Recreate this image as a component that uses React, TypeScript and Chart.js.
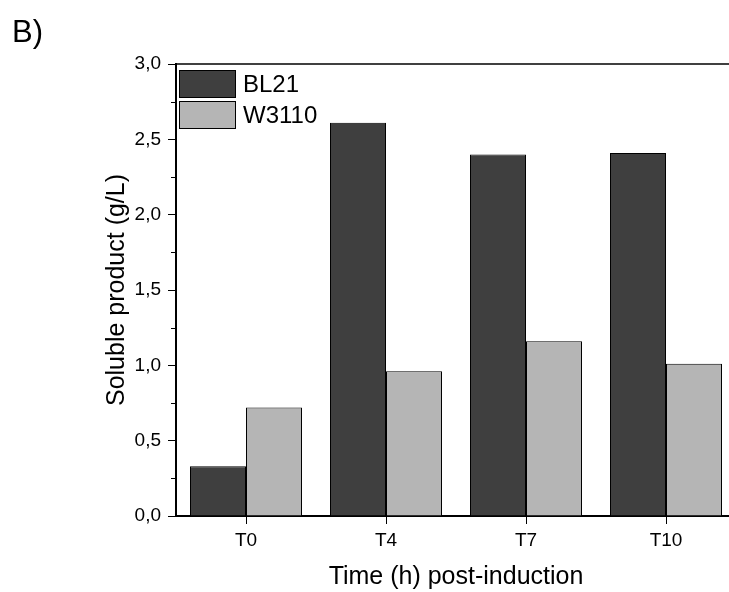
import React, { useEffect, useRef } from "react";
import { Chart, registerables } from "chart.js";

Chart.register(...registerables);

const categories = ["T0", "T4", "T7", "T10"];
const bl21Values = [0.33, 2.61, 2.4, 2.41];
const w3110Values = [0.72, 0.96, 1.16, 1.01];
const seriesNames = ["BL21", "W3110"];
const seriesColors = ["#3f3f3f", "#b5b5b5"];
const yMin = 0;
const yMax = 3;
const yStep = 0.5;
const minorTickValues = [0.25, 0.75, 1.25, 1.75, 2.25, 2.75];
const panelLabel = "B)";
const xTitle = "Time (h) post-induction";
const yTitle = "Soluble product (g/L)";

const FONT = '"Liberation Sans", Arial, sans-serif';
const CANVAS_W = 760;
const CANVAS_H = 592;

const decorPlugin = {
  id: "decor",
  afterDatasetsDraw(chart: any) {
    const { ctx, chartArea } = chart;
    ctx.save();
    // top frame line
    ctx.strokeStyle = "#000";
    ctx.lineWidth = 1.5;
    ctx.beginPath();
    ctx.moveTo(chartArea.left, chartArea.top);
    ctx.lineTo(chartArea.right, chartArea.top);
    ctx.stroke();

    // minor ticks on y axis
    const ys = chart.scales.y;
    ctx.lineWidth = 1;
    minorTickValues.forEach((v) => {
      const py = Math.round(ys.getPixelForValue(v)) + 0.5;
      ctx.beginPath();
      ctx.moveTo(chartArea.left - 5, py);
      ctx.lineTo(chartArea.left, py);
      ctx.stroke();
    });

    // legend inside chart area
    chart.data.datasets.forEach((ds: any, i: number) => {
      const x = chartArea.left + 3;
      const y = chartArea.top + 6 + i * 31;
      ctx.fillStyle = ds.backgroundColor;
      ctx.fillRect(x, y, 57, 28);
      ctx.strokeStyle = "#000";
      ctx.lineWidth = 1;
      ctx.strokeRect(x + 0.5, y + 0.5, 56, 27);
      ctx.fillStyle = "#000";
      ctx.font = `24px ${FONT}`;
      ctx.textBaseline = "middle";
      ctx.textAlign = "left";
      ctx.fillText(ds.label, x + 64, y + 15);
    });

    // panel label
    ctx.fillStyle = "#000";
    ctx.font = `31px ${FONT}`;
    ctx.textBaseline = "alphabetic";
    ctx.textAlign = "left";
    ctx.fillText(panelLabel, 12, 42);
    ctx.restore();
  },
};

export default function App() {
  const canvasRef = useRef<HTMLCanvasElement | null>(null);

  useEffect(() => {
    if (!canvasRef.current) return;
    const chart = new Chart(canvasRef.current, {
      type: "bar",
      data: {
        labels: categories,
        datasets: [
          {
            label: seriesNames[0],
            data: bl21Values,
            backgroundColor: seriesColors[0],
            borderColor: "#000",
            borderWidth: 1,
          },
          {
            label: seriesNames[1],
            data: w3110Values,
            backgroundColor: seriesColors[1],
            borderColor: "#000",
            borderWidth: 1,
          },
        ],
      },
      options: {
        responsive: false,
        animation: false,
        devicePixelRatio: 1,
        layout: { padding: { top: 64, left: 0, bottom: 0, right: CANVAS_W - 736 } },
        datasets: { bar: { categoryPercentage: 0.8, barPercentage: 1.0 } },
        plugins: {
          legend: { display: false },
          tooltip: { enabled: false },
        },
        scales: {
          x: {
            offset: true,
            grid: {
              offset: false,
              drawOnChartArea: false,
              drawTicks: true,
              tickLength: 8,
              color: "#000",
              lineWidth: 1,
            },
            border: { display: true, color: "#000", width: 2 },
            ticks: {
              color: "#000",
              font: { family: FONT, size: 19 },
              padding: 5,
              maxRotation: 0,
            },
            title: {
              display: true,
              text: xTitle,
              color: "#000",
              font: { family: FONT, size: 25 },
              padding: { top: 0, bottom: 0 },
            },
            afterFit(scale: any) {
              scale.height = CANVAS_H - 516;
            },
          },
          y: {
            min: yMin,
            max: yMax,
            grid: {
              drawOnChartArea: false,
              drawTicks: true,
              tickLength: 8,
              color: "#000",
              lineWidth: 1,
            },
            border: { display: true, color: "#000", width: 2 },
            ticks: {
              stepSize: yStep,
              color: "#000",
              font: { family: FONT, size: 19 },
              padding: 7,
              callback: (v: any) => Number(v).toFixed(1).replace(".", ","),
            },
            title: {
              display: true,
              text: yTitle,
              color: "#000",
              font: { family: FONT, size: 25 },
              padding: { top: 102, bottom: 0 },
            },
            afterFit(scale: any) {
              scale.width = 176;
            },
          },
        },
      },
      plugins: [decorPlugin],
    });
    return () => chart.destroy();
  }, []);

  return (
    <div
      style={{
        position: "fixed",
        left: 0,
        top: 0,
        width: 729,
        height: 592,
        overflow: "hidden",
        background: "#fff",
      }}
    >
      <canvas
        ref={canvasRef}
        width={CANVAS_W}
        height={CANVAS_H}
        style={{ width: CANVAS_W, height: CANVAS_H, display: "block" }}
      />
    </div>
  );
}
